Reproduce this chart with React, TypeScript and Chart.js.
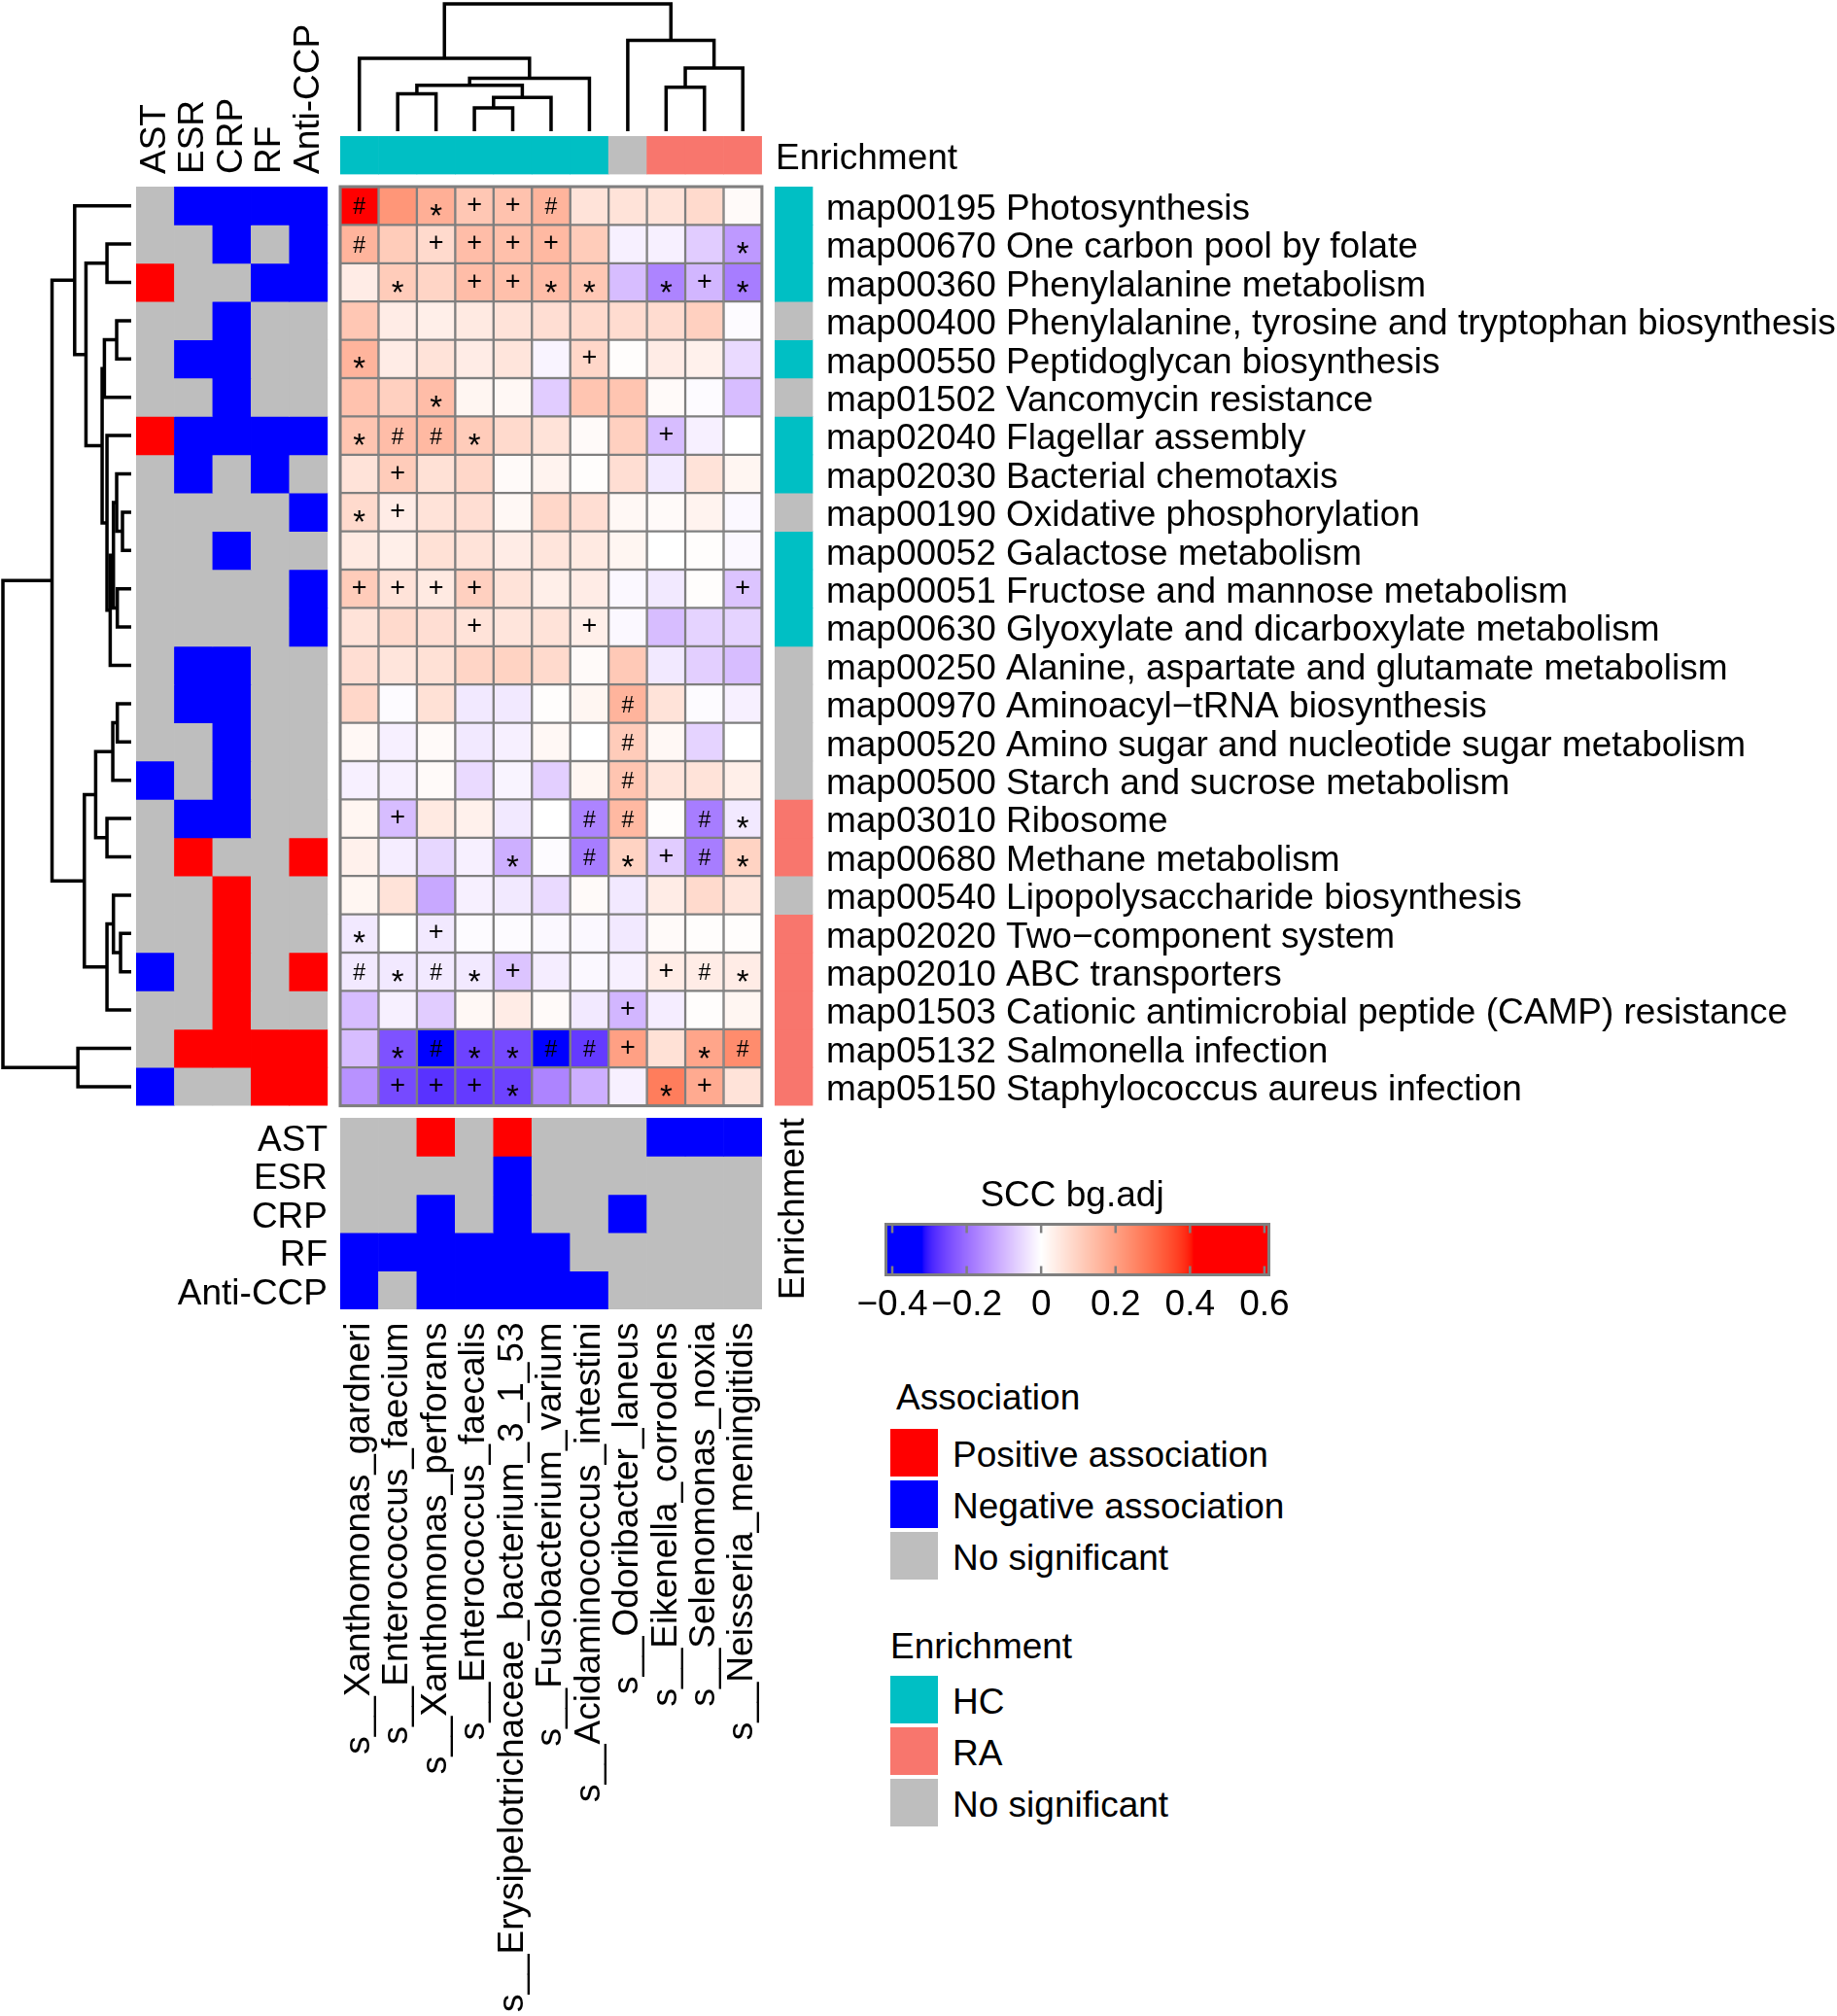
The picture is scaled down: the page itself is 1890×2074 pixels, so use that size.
import React, { useEffect, useRef } from "react";
import { Chart, registerables } from "chart.js";

Chart.register(...registerables);

const FONT = "'Liberation Sans', Arial, Helvetica, sans-serif";
Chart.defaults.font.family = FONT;
Chart.defaults.color = "#000";

// ---------------------------------------------------------------- data
const pathways = [
  "map00195 Photosynthesis",
  "map00670 One carbon pool by folate",
  "map00360 Phenylalanine metabolism",
  "map00400 Phenylalanine, tyrosine and tryptophan biosynthesis",
  "map00550 Peptidoglycan biosynthesis",
  "map01502 Vancomycin resistance",
  "map02040 Flagellar assembly",
  "map02030 Bacterial chemotaxis",
  "map00190 Oxidative phosphorylation",
  "map00052 Galactose metabolism",
  "map00051 Fructose and mannose metabolism",
  "map00630 Glyoxylate and dicarboxylate metabolism",
  "map00250 Alanine, aspartate and glutamate metabolism",
  "map00970 Aminoacyl\u2212tRNA biosynthesis",
  "map00520 Amino sugar and nucleotide sugar metabolism",
  "map00500 Starch and sucrose metabolism",
  "map03010 Ribosome",
  "map00680 Methane metabolism",
  "map00540 Lipopolysaccharide biosynthesis",
  "map02020 Two\u2212component system",
  "map02010 ABC transporters",
  "map01503 Cationic antimicrobial peptide (CAMP) resistance",
  "map05132 Salmonella infection",
  "map05150 Staphylococcus aureus infection",
];

const species = [
  "s__Xanthomonas_gardneri",
  "s__Enterococcus_faecium",
  "s__Xanthomonas_perforans",
  "s__Enterococcus_faecalis",
  "s__Erysipelotrichaceae_bacterium_3_1_53",
  "s__Fusobacterium_varium",
  "s__Acidaminococcus_intestini",
  "s__Odoribacter_laneus",
  "s__Eikenella_corrodens",
  "s__Selenomonas_noxia",
  "s__Neisseria_meningitidis",
];

const clinical = ["AST", "ESR", "CRP", "RF", "Anti-CCP"];

// SCC bg.adj per pathway (rows) x species (columns)
const sccValues = [
  [0.45, 0.22, 0.17, 0.12, 0.13, 0.16, 0.06, 0.06, 0.06, 0.08, 0.01],
  [0.16, 0.11, 0.08, 0.14, 0.135, 0.15, 0.11, -0.02, -0.02, -0.07, -0.14],
  [0.04, 0.11, 0.09, 0.14, 0.135, 0.14, 0.12, -0.09, -0.17, -0.1, -0.18],
  [0.12, 0.04, 0.035, 0.045, 0.06, 0.07, 0.08, 0.075, 0.075, 0.1, -0.005],
  [0.16, 0.04, 0.06, 0.04, 0.055, -0.015, 0.085, 0.005, 0.04, 0.03, -0.05],
  [0.13, 0.1, 0.14, 0.02, 0.015, -0.07, 0.125, 0.125, 0.01, -0.005, -0.09],
  [0.125, 0.14, 0.15, 0.11, 0.08, 0.06, 0.01, 0.1, -0.09, -0.02, 0.0],
  [0.06, 0.11, 0.065, 0.085, 0.01, 0.025, 0.005, 0.07, -0.03, 0.06, 0.02],
  [0.08, 0.04, 0.06, 0.07, 0.015, 0.085, 0.07, 0.015, 0.01, 0.025, -0.01],
  [0.045, 0.035, 0.065, 0.06, 0.04, 0.055, 0.045, 0.02, 0.0, 0.005, -0.01],
  [0.11, 0.06, 0.045, 0.1, 0.06, 0.035, 0.04, -0.01, -0.03, 0.005, -0.08],
  [0.06, 0.08, 0.07, 0.06, 0.055, 0.06, 0.035, -0.01, -0.09, -0.06, -0.06],
  [0.07, 0.055, 0.065, 0.09, 0.095, 0.08, 0.01, 0.115, -0.03, -0.065, -0.09],
  [0.085, -0.005, 0.065, -0.03, -0.03, 0.005, 0.02, 0.16, 0.06, -0.005, -0.02],
  [0.015, -0.02, 0.01, -0.03, -0.02, 0.015, 0.0, 0.11, 0.015, -0.06, 0.0],
  [-0.02, -0.02, 0.01, -0.05, -0.015, -0.065, 0.02, 0.125, 0.055, 0.06, 0.035],
  [0.02, -0.09, 0.045, 0.03, -0.03, 0.0, -0.17, 0.15, 0.005, -0.18, -0.03],
  [0.03, -0.025, -0.055, -0.02, -0.11, -0.005, -0.18, 0.095, -0.07, -0.18, 0.095],
  [0.02, 0.06, -0.12, -0.02, -0.03, -0.05, 0.01, -0.03, 0.04, 0.08, 0.055],
  [-0.03, 0.0, -0.03, -0.005, -0.005, -0.01, -0.01, -0.03, 0.01, 0.005, 0.005],
  [-0.03, -0.03, -0.03, -0.03, -0.08, -0.025, -0.01, -0.02, 0.04, 0.04, 0.04],
  [-0.09, -0.02, -0.07, 0.015, 0.04, 0.01, -0.03, -0.1, -0.025, 0.005, 0.02],
  [-0.09, -0.24, -0.36, -0.26, -0.25, -0.33, -0.27, 0.2, 0.065, 0.19, 0.24],
  [-0.15, -0.25, -0.28, -0.27, -0.26, -0.17, -0.11, -0.02, 0.27, 0.18, 0.06],
];

// significance marks per row, one character per species ('.' = none)
const sigMarks = [
  "#.*++#.....",
  "#.++++....*",
  ".*.++**.*+*",
  "...........",
  "*.....+....",
  "..*........",
  "*##*....+..",
  ".+.........",
  "*+.........",
  "...........",
  "++++......+",
  "...+..+....",
  "...........",
  ".......#...",
  ".......#...",
  ".......#...",
  ".+....##.#*",
  "....*.#*+#*",
  "...........",
  "*.+........",
  "#*#*+...+#*",
  ".......+...",
  ".*#**##+.*#",
  ".+++*...*+.",
];

// clinical association of pathways (rows) : 1 positive, -1 negative, 0 none
const rowClinical = [
  [0, -1, -1, -1, -1],
  [0, 0, -1, 0, -1],
  [1, 0, 0, -1, -1],
  [0, 0, -1, 0, 0],
  [0, -1, -1, 0, 0],
  [0, 0, -1, 0, 0],
  [1, -1, -1, -1, -1],
  [0, -1, 0, -1, 0],
  [0, 0, 0, 0, -1],
  [0, 0, -1, 0, 0],
  [0, 0, 0, 0, -1],
  [0, 0, 0, 0, -1],
  [0, -1, -1, 0, 0],
  [0, -1, -1, 0, 0],
  [0, 0, -1, 0, 0],
  [-1, 0, -1, 0, 0],
  [0, -1, -1, 0, 0],
  [0, 1, 0, 0, 1],
  [0, 0, 1, 0, 0],
  [0, 0, 1, 0, 0],
  [-1, 0, 1, 0, 1],
  [0, 0, 1, 0, 0],
  [0, 1, 1, 1, 1],
  [-1, 0, 0, 1, 1],
];

// clinical association of species (rows = clinical index, cols = species)
const colClinical = [
  [0, 0, 1, 0, 1, 0, 0, 0, -1, -1, -1],
  [0, 0, 0, 0, -1, 0, 0, 0, 0, 0, 0],
  [0, 0, -1, 0, -1, 0, 0, -1, 0, 0, 0],
  [-1, -1, -1, -1, -1, -1, 0, 0, 0, 0, 0],
  [-1, 0, -1, -1, -1, -1, -1, 0, 0, 0, 0],
];

const rowEnrichment = [
  "HC", "HC", "HC", "NS", "HC", "NS", "HC", "HC", "NS", "HC", "HC", "HC",
  "NS", "NS", "NS", "NS", "RA", "RA", "NS", "RA", "RA", "RA", "RA", "RA",
];
const colEnrichment = ["HC", "HC", "HC", "HC", "HC", "HC", "HC", "NS", "RA", "RA", "RA"];

// dendrograms, hclust style: negative = leaf (-(index+1)), positive = earlier merge (1-based)
const rowMerge = [
  [-9, -10], [-20, -21], [-11, -12], [-14, -15], [-4, -5], [-8, 1], [6, 3], [-19, 2],
  [4, -16], [7, -13], [-2, -3], [-7, 10], [-17, -18], [8, -22], [5, -6], [15, 12],
  [9, 13], [11, 16], [17, 14], [-23, -24], [-1, 18], [21, 19], [22, 20],
];
const rowHeights = [27, 33, 43, 43, 45, 45, 55, 55, 57, 65, 75, 75, 75, 75, 83, 90, 110, 140, 145, 165, 175, 245, 397];

const colMerge = [
  [-4, -5], [-2, -3], [1, -6], [2, 3], [-9, -10], [4, -7], [5, -11], [-1, 6], [-8, 7], [8, 9],
];
const colHeights = [73, 117, 105, 143, 137, 165, 197, 227, 283, 397];

// colour mapping of SCC values
const colorBreaks = [-0.32, 0, 0.41];
const rampColors = ["#0000FF", "#FFFFFF", "#FF0000"];
const legendTicks = [-0.4, -0.2, 0, 0.2, 0.4, 0.6];

const assocLegend = [
  { label: "Positive association", value: 1 },
  { label: "Negative association", value: -1 },
  { label: "No significant", value: 0 },
];
const enrichLegend = [
  { label: "HC", value: "HC" },
  { label: "RA", value: "RA" },
  { label: "No significant", value: "NS" },
];

// ---------------------------------------------------------------- styles
const RED = "#FF0000";
const BLUE = "#0000FF";
const GREY = "#BEBEBE";
const TEAL = "#00BFC4";
const SALMON = "#F8766D";
const LINE_GREY = "#7F7F7F";
const FS = 37;
const LINE_H = FS * 1.2;
const DLW = 3.5;

const assocColor = (v: number) => (v > 0 ? RED : v < 0 ? BLUE : GREY);
const enrColor = (v: string) => (v === "HC" ? TEAL : v === "RA" ? SALMON : GREY);

// LAB interpolation (like circlize::colorRamp2)
const toLin = (c: number) => {
  c /= 255;
  return c <= 0.04045 ? c / 12.92 : Math.pow((c + 0.055) / 1.055, 2.4);
};
const toSrgb = (c: number) => {
  const v = c <= 0.0031308 ? 12.92 * c : 1.055 * Math.pow(c, 1 / 2.4) - 0.055;
  return Math.round(Math.min(1, Math.max(0, v)) * 255);
};
const hexRgb = (h: string) => [1, 3, 5].map((i) => parseInt(h.slice(i, i + 2), 16));
function rgbLab(rgb: number[]) {
  const [R, G, B] = rgb.map(toLin);
  const X = (0.4124 * R + 0.3576 * G + 0.1805 * B) / 0.95047;
  const Y = 0.2126 * R + 0.7152 * G + 0.0722 * B;
  const Z = (0.0193 * R + 0.1192 * G + 0.9505 * B) / 1.08883;
  const f = (t: number) => (t > 0.008856 ? Math.cbrt(t) : 7.787 * t + 16 / 116);
  const fx = f(X), fy = f(Y), fz = f(Z);
  return [116 * fy - 16, 500 * (fx - fy), 200 * (fy - fz)];
}
function labRgb(lab: number[]) {
  const [L, a, b] = lab;
  const fy = (L + 16) / 116, fx = fy + a / 500, fz = fy - b / 200;
  const fi = (t: number) => (t * t * t > 0.008856 ? t * t * t : (t - 16 / 116) / 7.787);
  const X = fi(fx) * 0.95047, Y = fi(fy), Z = fi(fz) * 1.08883;
  return [
    toSrgb(3.2406 * X - 1.5372 * Y - 0.4986 * Z),
    toSrgb(-0.9689 * X + 1.8758 * Y + 0.0415 * Z),
    toSrgb(0.0557 * X - 0.204 * Y + 1.057 * Z),
  ];
}
const rampLab = rampColors.map((h) => rgbLab(hexRgb(h)));
function sccColor(v: number) {
  const b = colorBreaks;
  const x = Math.min(b[b.length - 1], Math.max(b[0], v));
  let i = 0;
  while (i < b.length - 2 && x > b[i + 1]) i++;
  const t = (x - b[i]) / (b[i + 1] - b[i]);
  const lab = rampLab[i].map((c, k) => c + (rampLab[i + 1][k] - c) * t);
  const [r, g, bb] = labRgb(lab);
  return `rgb(${r},${g},${bb})`;
}

// ---------------------------------------------------------------- layout
type Rect = { x0: number; y0: number; x1: number; y1: number };
const CW = 39.45;
const CH = 39.4;
const HX0 = 350;
const HY0 = 192;
const HX1 = HX0 + species.length * CW;
const HY1 = HY0 + pathways.length * CH;

const AREA: Record<string, Rect> = {
  heat: { x0: HX0, y0: HY0, x1: HX1, y1: HY1 },
  left: { x0: 140, y0: HY0, x1: 140 + clinical.length * CW, y1: HY1 },
  right: { x0: 797, y0: HY0, x1: 797 + CW, y1: HY1 },
  top: { x0: HX0, y0: 140, x1: HX1, y1: 140 + CH },
  bottom: { x0: HX0, y0: 1150, x1: HX1, y1: 1150 + clinical.length * CH },
  rowDendro: { x0: 3, y0: HY0, x1: 135, y1: HY1 },
  colDendro: { x0: HX0, y0: 4, x1: HX1, y1: 135 },
  colorBar: { x0: 911.5, y0: 1259.5, x1: 1305.5, y1: 1311.5 },
};
const CANVAS: Record<string, Rect> = {
  heat: { x0: 340, y0: 182, x1: 795, y1: 1148 },
  left: { x0: 60, y0: 0, x1: 345, y1: 1180 },
  right: { x0: 780, y0: 140, x1: 1890, y1: 1400 },
  top: { x0: 340, y0: 90, x1: 1100, y1: 230 },
  bottom: { x0: 0, y0: 1100, x1: 845, y1: 2074 },
  rowDendro: { x0: 0, y0: 150, x1: 138, y1: 1180 },
  colDendro: { x0: 330, y0: 0, x1: 810, y1: 138 },
  colorBar: { x0: 840, y0: 1240, x1: 1380, y1: 1390 },
};

function padOf(c: Rect, a: Rect, ax: any = {}) {
  return {
    left: a.x0 - c.x0 - (ax.left || 0),
    right: c.x1 - a.x1 - (ax.right || 0),
    top: a.y0 - c.y0 - (ax.top || 0),
    bottom: c.y1 - a.y1 - (ax.bottom || 0),
  };
}

const base = (padding: any) => ({
  responsive: false,
  maintainAspectRatio: false,
  animation: false,
  events: [],
  layout: { padding },
  plugins: { legend: { display: false }, tooltip: { enabled: false }, title: { display: false } },
});

const labelAxis = (opts: any) => ({
  display: true,
  grid: { display: false, drawTicks: false },
  border: { display: false },
  ...opts,
  ticks: { font: { family: FONT, size: FS }, color: "#000", autoSkip: false, ...(opts.ticks || {}) },
});

const blockStyle = {
  borderWidth: 0,
  grouped: false,
  barPercentage: 1,
  categoryPercentage: 1,
};

const hiddenRows = (n: number) => ({ type: "linear", display: false, min: -0.5, max: n - 0.5, reverse: true });

// ---------------------------------------------------------------- plugins
const markStyle: Record<string, { size: number; dy: number }> = {
  "#": { size: 23, dy: 0.38 },
  "+": { size: 27, dy: 0.26 },
  "*": { size: 33, dy: 0.64 },
};
const marksPlugin = {
  id: "sigMarks",
  afterDatasetsDraw(chart: any) {
    const { ctx, scales } = chart;
    ctx.save();
    ctx.fillStyle = "#000";
    ctx.textAlign = "center";
    ctx.textBaseline = "alphabetic";
    sigMarks.forEach((row, r) => {
      Array.from(row).forEach((ch, c) => {
        if (ch === ".") return;
        const st = markStyle[ch];
        ctx.font = `${st.size}px ${FONT}`;
        ctx.fillText(ch, scales.x.getPixelForValue(c), scales.y.getPixelForValue(r) + st.dy * st.size);
      });
    });
    ctx.restore();
  },
};

const framePlugin = {
  id: "frame",
  afterDatasetsDraw(chart: any) {
    const { ctx, chartArea: a } = chart;
    ctx.save();
    ctx.strokeStyle = LINE_GREY;
    ctx.lineWidth = 3;
    ctx.strokeRect(a.left, a.top, a.right - a.left, a.bottom - a.top);
    ctx.restore();
  },
};

const colorBarPlugin = {
  id: "colorBar",
  beforeDatasetsDraw(chart: any) {
    const { ctx, chartArea: a, scales } = chart;
    const x = scales.x;
    ctx.save();
    for (let px = Math.floor(a.left); px < a.right; px++) {
      ctx.fillStyle = sccColor(x.getValueForPixel(px + 0.5));
      ctx.fillRect(Math.max(px, a.left), a.top, Math.min(1.5, a.right - px), a.bottom - a.top);
    }
    ctx.strokeStyle = LINE_GREY;
    ctx.lineWidth = 2.5;
    legendTicks.forEach((v) => {
      const px = x.getPixelForValue(v);
      ctx.beginPath();
      ctx.moveTo(px, a.top);
      ctx.lineTo(px, a.top + 9);
      ctx.moveTo(px, a.bottom);
      ctx.lineTo(px, a.bottom - 9);
      ctx.stroke();
    });
    ctx.lineWidth = 3;
    ctx.strokeRect(a.left, a.top, a.right - a.left, a.bottom - a.top);
    ctx.restore();
  },
};

// ---------------------------------------------------------------- configs
function dendroLinks(merges: number[][], heights: number[]) {
  const pos: number[] = [];
  const segs: { p: number; h: number }[][] = [];
  merges.forEach(([a, b], k) => {
    const get = (id: number) => (id < 0 ? { p: -id - 1, h: 0 } : { p: pos[id - 1], h: heights[id - 1] });
    const A = get(a), B = get(b), H = heights[k];
    pos[k] = (A.p + B.p) / 2;
    segs.push([{ p: A.p, h: A.h }, { p: A.p, h: H }, { p: B.p, h: H }, { p: B.p, h: B.h }]);
  });
  return segs;
}

const dendroDataset = (data: any[]) => ({
  data,
  showLine: true,
  borderColor: "#000",
  borderWidth: DLW,
  pointRadius: 0,
  clip: false,
  borderJoinStyle: "miter",
  borderCapStyle: "butt",
  tension: 0,
});

function heatConfig() {
  return {
    type: "bar",
    data: {
      labels: species,
      datasets: pathways.map((name, r) => ({
        label: name,
        data: species.map(() => [r - 0.5, r + 0.5]),
        backgroundColor: sccValues[r].map(sccColor),
        borderColor: LINE_GREY,
        borderWidth: 1.5,
        borderSkipped: false,
        grouped: false,
        barPercentage: 1,
        categoryPercentage: 1,
      })),
    },
    options: {
      ...base(padOf(CANVAS.heat, AREA.heat)),
      scales: { x: { type: "category", display: false }, y: hiddenRows(pathways.length) },
    },
    plugins: [marksPlugin, framePlugin],
  };
}

function leftConfig() {
  const c = CANVAS.left, a = AREA.left;
  const xH = a.y0 - c.y0;
  return {
    type: "bar",
    data: {
      labels: clinical,
      datasets: pathways.map((name, r) => ({
        label: name,
        data: clinical.map(() => [r - 0.5, r + 0.5]),
        backgroundColor: rowClinical[r].map(assocColor),
        ...blockStyle,
      })),
    },
    options: {
      ...base(padOf(c, a, { top: xH })),
      scales: {
        x: labelAxis({
          type: "category",
          position: "top",
          afterFit: (s: any) => { s.height = xH; },
          ticks: { padding: 13, minRotation: 90, maxRotation: 90, labelOffset: LINE_H },
        }),
        y: hiddenRows(pathways.length),
      },
    },
  };
}

function rightConfig() {
  const c = CANVAS.right, a = AREA.right;
  const yW = c.x1 - a.x1, xH = c.y1 - a.y1;
  return {
    type: "bar",
    data: {
      labels: ["Enrichment"],
      datasets: pathways.map((name, r) => ({
        label: name,
        data: [[r - 0.5, r + 0.5]],
        backgroundColor: [enrColor(rowEnrichment[r])],
        ...blockStyle,
      })),
    },
    options: {
      ...base(padOf(c, a, { right: yW, bottom: xH })),
      scales: {
        x: labelAxis({
          type: "category",
          position: "bottom",
          afterFit: (s: any) => { s.height = xH; },
          ticks: { padding: 12.5, minRotation: 90, maxRotation: 90 },
        }),
        y: labelAxis({
          type: "linear",
          position: "right",
          min: -0.5,
          max: pathways.length - 0.5,
          reverse: true,
          afterBuildTicks: (s: any) => { s.ticks = pathways.map((_, i) => ({ value: i })); },
          afterFit: (s: any) => { s.width = yW; },
          ticks: { padding: 13.5, labelOffset: 4, callback: (v: number) => pathways[v] },
        }),
      },
    },
  };
}

function topConfig() {
  const c = CANVAS.top, a = AREA.top;
  const yW = c.x1 - a.x1;
  return {
    type: "bar",
    data: {
      labels: species,
      datasets: [
        {
          label: "Enrichment",
          data: species.map(() => [-0.5, 0.5]),
          backgroundColor: colEnrichment.map(enrColor),
          ...blockStyle,
        },
      ],
    },
    options: {
      ...base(padOf(c, a, { right: yW })),
      scales: {
        x: { type: "category", display: false },
        y: labelAxis({
          type: "linear",
          position: "right",
          min: -0.5,
          max: 0.5,
          reverse: true,
          afterBuildTicks: (s: any) => { s.ticks = [{ value: 0 }]; },
          afterFit: (s: any) => { s.width = yW; },
          ticks: { padding: 14, labelOffset: 4, callback: () => "Enrichment" },
        }),
      },
    },
  };
}

function bottomConfig() {
  const c = CANVAS.bottom, a = AREA.bottom;
  const yW = a.x0 - c.x0, xH = c.y1 - a.y1;
  return {
    type: "bar",
    data: {
      labels: species,
      datasets: clinical.map((name, k) => ({
        label: name,
        data: species.map(() => [k - 0.5, k + 0.5]),
        backgroundColor: colClinical[k].map(assocColor),
        ...blockStyle,
      })),
    },
    options: {
      ...base(padOf(c, a, { left: yW, bottom: xH })),
      scales: {
        x: labelAxis({
          type: "category",
          position: "bottom",
          afterFit: (s: any) => { s.height = xH; },
          ticks: { padding: 13.5, minRotation: 90, maxRotation: 90 },
        }),
        y: labelAxis({
          type: "linear",
          position: "left",
          min: -0.5,
          max: clinical.length - 0.5,
          reverse: true,
          afterBuildTicks: (s: any) => { s.ticks = clinical.map((_, i) => ({ value: i })); },
          afterFit: (s: any) => { s.width = yW; },
          ticks: { padding: 13, labelOffset: 4, callback: (v: number) => clinical[v] },
        }),
      },
    },
  };
}

function rowDendroConfig() {
  const segs = dendroLinks(rowMerge, rowHeights);
  return {
    type: "scatter",
    data: { datasets: segs.map((s) => dendroDataset(s.map((p) => ({ x: p.h, y: p.p })))) },
    options: {
      ...base(padOf(CANVAS.rowDendro, AREA.rowDendro)),
      scales: {
        x: { type: "linear", display: false, min: 0, max: Math.max(...rowHeights), reverse: true },
        y: hiddenRows(pathways.length),
      },
    },
  };
}

function colDendroConfig() {
  const segs = dendroLinks(colMerge, colHeights);
  return {
    type: "scatter",
    data: { datasets: segs.map((s) => dendroDataset(s.map((p) => ({ x: p.p, y: p.h })))) },
    options: {
      ...base(padOf(CANVAS.colDendro, AREA.colDendro)),
      scales: {
        x: { type: "linear", display: false, min: -0.5, max: species.length - 0.5 },
        y: { type: "linear", display: false, min: 0, max: Math.max(...colHeights) },
      },
    },
  };
}

function colorBarConfig() {
  const c = CANVAS.colorBar, a = AREA.colorBar;
  const xH = c.y1 - a.y1;
  const fmt = (v: number) => (v === 0 ? "0" : (v < 0 ? "\u2212" : "") + Math.abs(v).toFixed(1));
  return {
    type: "scatter",
    data: { datasets: [{ data: [] }] },
    options: {
      ...base(padOf(c, a, { bottom: xH })),
      scales: {
        x: labelAxis({
          type: "linear",
          position: "bottom",
          min: -0.417,
          max: 0.612,
          afterBuildTicks: (s: any) => { s.ticks = legendTicks.map((v) => ({ value: v })); },
          afterFit: (s: any) => { s.height = xH; },
          ticks: { padding: 9, maxRotation: 0, minRotation: 0, callback: (v: number) => fmt(v) },
        }),
        y: { type: "linear", display: false, min: 0, max: 1 },
      },
    },
    plugins: [colorBarPlugin],
  };
}

// ---------------------------------------------------------------- components
function ChartBox({ canvas, build }: { canvas: Rect; build: () => any }) {
  const ref = useRef<HTMLCanvasElement | null>(null);
  useEffect(() => {
    if (!ref.current) return;
    const chart = new Chart(ref.current, build());
    return () => chart.destroy();
  }, []);
  const w = canvas.x1 - canvas.x0;
  const h = canvas.y1 - canvas.y0;
  return (
    <canvas
      ref={ref}
      width={w}
      height={h}
      style={{ position: "absolute", left: canvas.x0, top: canvas.y0, width: w, height: h, display: "block" }}
    />
  );
}

function Text({ x, y, center, children }: { x: number; y: number; center?: boolean; children: any }) {
  return (
    <div
      style={{
        position: "absolute",
        left: x,
        top: y - FS / 2,
        fontSize: FS,
        lineHeight: `${FS}px`,
        whiteSpace: "nowrap",
        color: "#000",
        transform: center ? "translateX(-50%)" : undefined,
      }}
    >
      {children}
    </div>
  );
}

function Swatch({ x, y, color }: { x: number; y: number; color: string }) {
  return <div style={{ position: "absolute", left: x, top: y, width: 49, height: 49, background: color }} />;
}

export default function App() {
  const assocY = [1470, 1523, 1576];
  const enrY = [1724, 1777, 1830];
  return (
    <div
      style={{
        position: "absolute",
        left: 0,
        top: 0,
        width: 1890,
        height: 2074,
        background: "#fff",
        overflow: "hidden",
        fontFamily: FONT,
      }}
    >
      <ChartBox canvas={CANVAS.rowDendro} build={rowDendroConfig} />
      <ChartBox canvas={CANVAS.colDendro} build={colDendroConfig} />
      <ChartBox canvas={CANVAS.left} build={leftConfig} />
      <ChartBox canvas={CANVAS.top} build={topConfig} />
      <ChartBox canvas={CANVAS.bottom} build={bottomConfig} />
      <ChartBox canvas={CANVAS.right} build={rightConfig} />
      <ChartBox canvas={CANVAS.heat} build={heatConfig} />
      <ChartBox canvas={CANVAS.colorBar} build={colorBarConfig} />

      <Text x={1103} y={1228} center>SCC bg.adj</Text>

      <Text x={922} y={1437}>Association</Text>
      {assocLegend.map((it, i) => (
        <React.Fragment key={it.label}>
          <Swatch x={916} y={assocY[i]} color={assocColor(it.value)} />
          <Text x={980} y={assocY[i] + 26}>{it.label}</Text>
        </React.Fragment>
      ))}

      <Text x={916} y={1693}>Enrichment</Text>
      {enrichLegend.map((it, i) => (
        <React.Fragment key={it.label}>
          <Swatch x={916} y={enrY[i]} color={enrColor(it.value)} />
          <Text x={980} y={enrY[i] + 26}>{it.label}</Text>
        </React.Fragment>
      ))}
    </div>
  );
}
